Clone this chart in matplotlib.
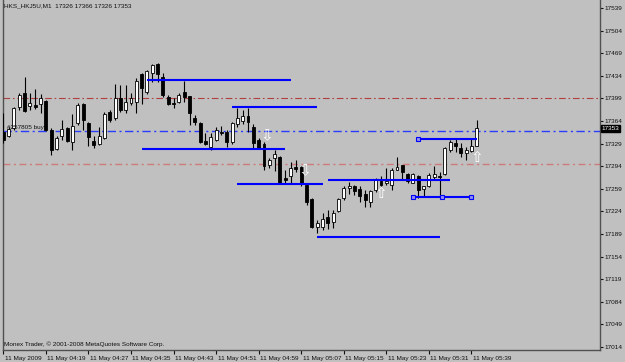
import numpy as np
import matplotlib
matplotlib.use("Agg")
import matplotlib.pyplot as plt
import matplotlib.transforms as mtransforms

plt.rcParams['font.family'] = ['Liberation Sans', 'DejaVu Sans']

# HK5 M1 bars, 11 May 2009 04:11 .. 05:40
opens = [17347, 17341, 17353, 17386, 17407, 17387, 17389, 17390, 17395, 17350,
         17321, 17341, 17353, 17331, 17361, 17390, 17361, 17333, 17328, 17338,
         17378, 17369, 17400, 17381, 17392, 17393, 17437, 17409, 17438, 17452,
         17432, 17401, 17392, 17393, 17409, 17402, 17369, 17361, 17333, 17324,
         17335, 17347, 17347, 17331, 17359, 17364, 17372, 17355, 17335, 17328,
         17296, 17307, 17308, 17276, 17279, 17293, 17293, 17265, 17243, 17200,
         17200, 17215, 17208, 17225, 17245, 17260, 17263, 17259, 17251, 17239,
         17257, 17271, 17268, 17265, 17288, 17296, 17282, 17268, 17279, 17259,
         17263, 17277, 17279, 17282, 17319, 17330, 17322, 17314, 17317, 17326]
highs = [17376, 17355, 17386, 17407, 17432, 17407, 17414, 17406, 17397, 17353,
         17341, 17366, 17355, 17375, 17392, 17392, 17362, 17341, 17355, 17378,
         17381, 17421, 17420, 17420, 17407, 17431, 17438, 17443, 17452, 17454,
         17438, 17404, 17400, 17407, 17426, 17403, 17373, 17362, 17346, 17346,
         17355, 17356, 17350, 17362, 17384, 17381, 17384, 17359, 17338, 17332,
         17307, 17319, 17310, 17288, 17300, 17304, 17294, 17266, 17245, 17211,
         17222, 17226, 17226, 17245, 17263, 17270, 17265, 17263, 17257, 17257,
         17276, 17279, 17291, 17291, 17308, 17296, 17283, 17283, 17280, 17263,
         17283, 17294, 17285, 17324, 17335, 17336, 17330, 17324, 17336, 17366]
lows = [17330, 17339, 17350, 17381, 17378, 17381, 17383, 17376, 17348, 17311,
        17319, 17335, 17331, 17319, 17358, 17350, 17325, 17322, 17327, 17336,
        17363, 17366, 17378, 17376, 17389, 17376, 17390, 17406, 17424, 17424,
        17401, 17389, 17384, 17392, 17393, 17358, 17358, 17330, 17327, 17319,
        17333, 17342, 17324, 17328, 17355, 17359, 17347, 17322, 17321, 17288,
        17291, 17287, 17266, 17268, 17268, 17285, 17263, 17234, 17198, 17190,
        17195, 17197, 17198, 17223, 17242, 17251, 17249, 17239, 17231, 17231,
        17254, 17263, 17265, 17257, 17288, 17273, 17268, 17268, 17245, 17246,
        17262, 17273, 17245, 17280, 17316, 17316, 17308, 17304, 17316, 17326]
closes = [17335, 17352, 17384, 17404, 17379, 17392, 17386, 17400, 17350, 17319,
          17337, 17352, 17333, 17356, 17389, 17366, 17339, 17327, 17341, 17375,
          17366, 17400, 17381, 17393, 17400, 17426, 17415, 17441, 17451, 17437,
          17404, 17390, 17390, 17404, 17401, 17376, 17362, 17331, 17328, 17339,
          17350, 17345, 17331, 17361, 17369, 17372, 17362, 17330, 17322, 17294,
          17304, 17313, 17268, 17273, 17291, 17290, 17268, 17239, 17200, 17206,
          17212, 17206, 17222, 17243, 17260, 17263, 17256, 17248, 17242, 17256,
          17273, 17265, 17271, 17288, 17293, 17285, 17271, 17282, 17257, 17263,
          17280, 17282, 17277, 17322, 17332, 17325, 17314, 17319, 17325, 17353]

tick_bars = [0, 8, 16, 24, 32, 40, 48, 56, 64, 72, 80, 88]
tick_labels = ["11 May 2009", "11 May 04:19", "11 May 04:27", "11 May 04:35",
               "11 May 04:43", "11 May 04:51", "11 May 04:59", "11 May 05:07",
               "11 May 05:15", "11 May 05:23", "11 May 05:31", "11 May 05:39"]
price_ticks = [17014 + 35 * k for k in range(16)]

# horizontal trend levels: start bar, end bar, price
level_start = [27, 43, 26, 44, 61, 59, 78, 77]
level_end = [54, 59, 53, 60, 84, 82, 89, 88]
level_price = [17427, 17385, 17320, 17267, 17272, 17184, 17336, 17247]

# order / stop lines
order_price = 17348
upper_stop = 17399
lower_stop = 17297

# signal arrows: bar, price, direction
arrow_bar = [49.5, 56.7, 70.9, 89.0]
arrow_price = [17341, 17287, 17251, 17308]
arrow_dir = ['down', 'down', 'up', 'up']

bg = '#c0c0c0'
txt = '#101010'
fig = plt.figure(figsize=(6.25, 3.62), dpi=100, facecolor=bg)
ax = fig.add_axes([3 / 625, 12 / 362, 597 / 625, 350 / 362])
ax.set_facecolor(bg)
ax.set_xlim(-0.06, 112.16)
ax.set_ylim(17009.4, 17551.4)

o = np.array(opens); h = np.array(highs); l = np.array(lows); c = np.array(closes)
x = np.arange(len(o))
bull = c >= o
ax.vlines(x, l, h, color='black', lw=0.8, zorder=3)
bottom = np.minimum(o, c)
height = np.maximum(np.abs(c - o), 1.0)
ax.bar(x, height, bottom=bottom, width=0.55,
       color=np.where(bull, 'white', 'black'), edgecolor='black',
       linewidth=0.6, zorder=4)

# stop / order lines
ax.axhline(upper_stop, color='#b04040', lw=0.8, dashes=(6, 2.5, 1.5, 2.5), zorder=2)
ax.axhline(order_price, color='#2a3cff', lw=1.0, dashes=(6, 2.5, 1.5, 2.5), zorder=2)
ax.axhline(lower_stop, color='#cc7a7a', lw=1.0, dashes=(5, 2.5, 1.5, 2.5), zorder=2)
ax.text(0.6, order_price + 2, '#257805 buy', fontsize=4.6, color=txt,
        va='bottom', ha='left', zorder=5)

# levels
for i in range(len(level_price)):
    ax.plot([level_start[i], level_end[i]], [level_price[i]] * 2,
            color='#0000ff', lw=1.5, zorder=5, solid_capstyle='butt')
sq = dict(marker='s', ms=3.2, mfc='#9090f0', mec='#0000ff', mew=0.8,
          ls='none', zorder=6)
ax.plot([level_start[6]], [level_price[6]], **sq)
ax.plot([level_start[7], (level_start[7] + level_end[7]) / 2, level_end[7]],
        [level_price[7]] * 3, **sq)

for xb, yp, d in zip(arrow_bar, arrow_price, arrow_dir):
    ax.text(xb, yp, '\u21e9' if d == 'down' else '\u21e7', color='white',
            fontsize=11, ha='center', va='center', family='DejaVu Sans', zorder=6)

# frame
for s in ['left', 'right', 'bottom']:
    ax.spines[s].set_color('#505050')
    ax.spines[s].set_linewidth(1.0)
ax.spines['top'].set_visible(False)

ax.yaxis.tick_right()
ax.set_yticks(price_ticks)
ax.set_yticklabels([str(p) for p in price_ticks])
ax.tick_params(axis='y', direction='out', length=2.5, width=0.8, pad=1,
               labelsize=4.6, colors=txt)
ax.set_xticks(tick_bars)
ax.set_xticklabels(tick_labels, ha='left')
ax.tick_params(axis='x', direction='out', length=3, width=0.8, pad=1,
               labelsize=4.6, colors=txt)
offset = mtransforms.ScaledTranslation(1.5 / 100, 0, fig.dpi_scale_trans)
for lab in ax.get_xticklabels():
    lab.set_transform(lab.get_transform() + offset)

# current price box
ax.annotate(str(closes[-1]), xy=(1.0, closes[-1]), xycoords=('axes fraction', 'data'),
            xytext=(1.2, 0), textcoords='offset points', fontsize=4.6, color='white',
            va='center', ha='left',
            bbox=dict(boxstyle='square,pad=0.15', fc='black', ec='black'),
            annotation_clip=False, zorder=10)

ax.text(0.002, 0.99, 'HKS_HKJ5U,M1  %d %d %d %d' % (opens[-1], highs[-1], lows[-1], closes[-1]),
        transform=ax.transAxes, fontsize=4.6, color=txt, va='top', ha='left')
ax.text(0.002, 0.008, 'Monex Trader, \u00a9 2001-2008 MetaQuotes Software Corp.',
        transform=ax.transAxes, fontsize=4.6, color=txt, va='bottom', ha='left')

fig.savefig('out.png', dpi=100, facecolor=bg)
